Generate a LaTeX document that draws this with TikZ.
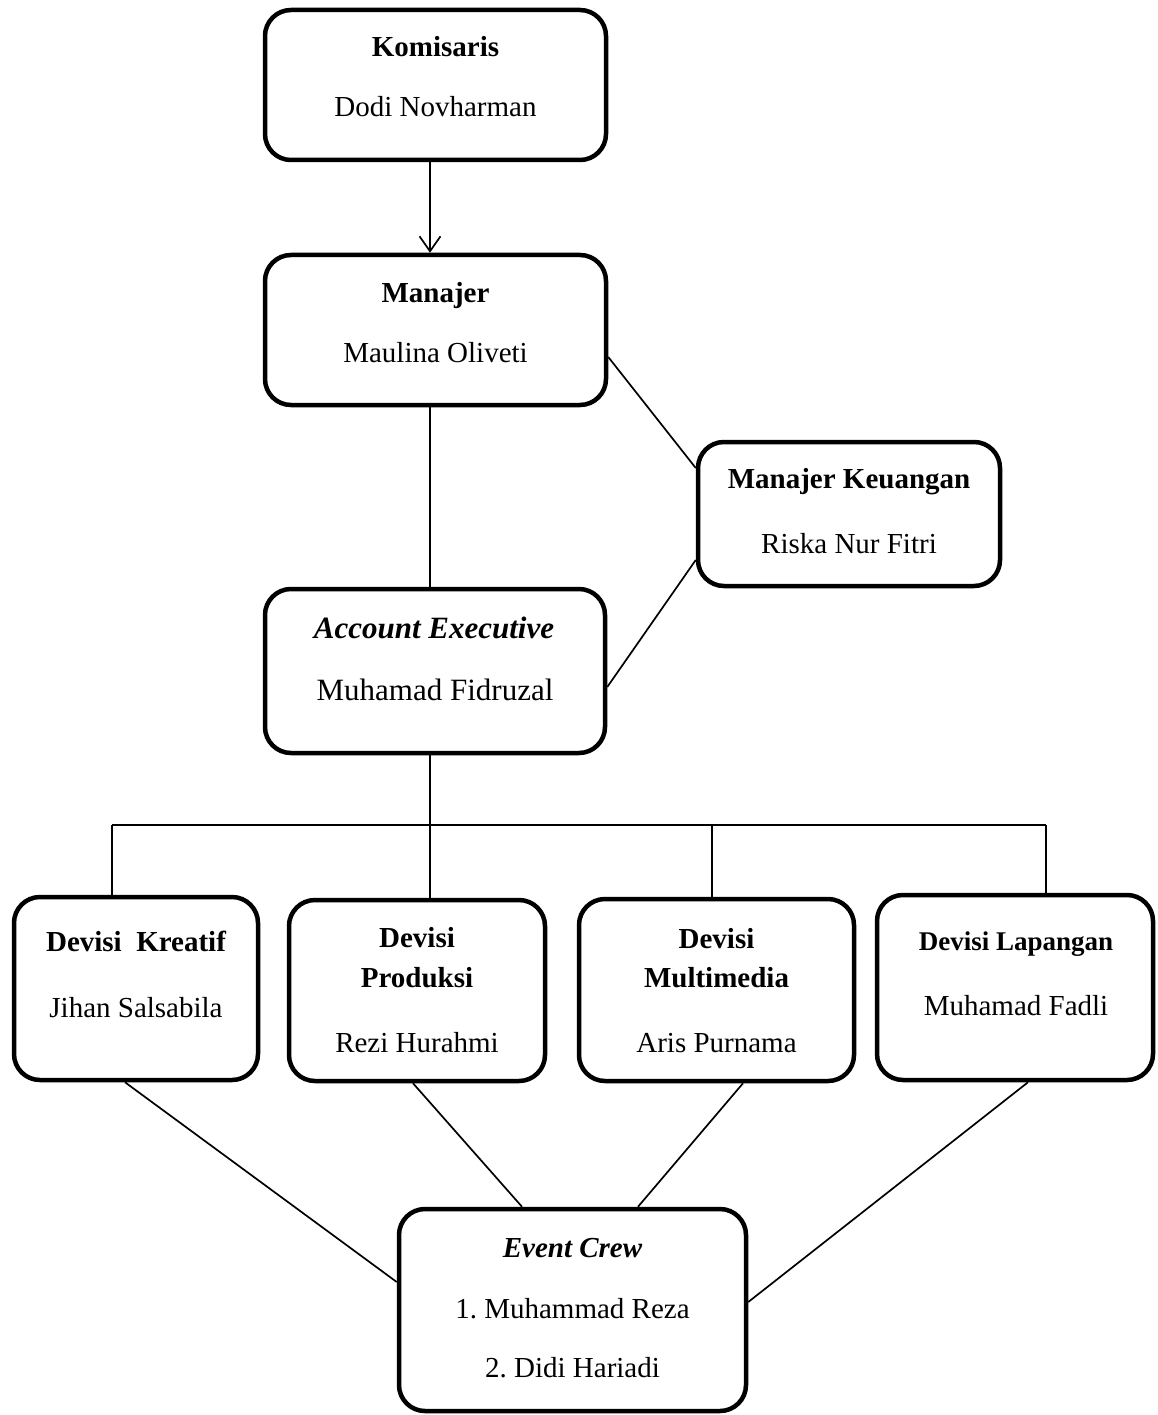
\documentclass[tikz,border=0pt]{standalone}
\usepackage{fontspec}
\setmainfont{Liberation Serif}
\usetikzlibrary{arrows.meta}
\frenchspacing
\begin{document}
\begin{tikzpicture}[x=1pt,y=-1pt,
  box/.style={draw=black,line width=4.5pt,rounded corners=26pt,inner sep=0pt,fill=none},
  conn/.style={line width=1.7pt,draw=black},
  arr/.style={conn,-{Straight Barb[length=15pt,width=21pt,line width=1.7pt]}},
  hd/.style={anchor=base,inner sep=0pt,font=\fontsize{29}{35}\selectfont\bfseries},
  nm/.style={anchor=base,inner sep=0pt,font=\fontsize{29}{35}\selectfont},
]
\useasboundingbox (0,0) rectangle (1158,1415);

% boxes
\node[box,minimum width=341pt,minimum height=150pt] (kom) at (435.5,85) {};
\node[box,minimum width=341pt,minimum height=150pt] (man) at (435.5,330) {};
\node[box,minimum width=302pt,minimum height=144pt] (mk) at (849,514) {};
\node[box,minimum width=340pt,minimum height=164pt] (ae) at (435,671) {};
\node[box,minimum width=244pt,minimum height=183pt] (kre) at (136,988.5) {};
\node[box,minimum width=256pt,minimum height=181pt] (pro) at (417,990.5) {};
\node[box,minimum width=275pt,minimum height=182pt] (mul) at (716.5,990) {};
\node[box,minimum width=276pt,minimum height=185pt] (lap) at (1015,987.5) {};
\node[box,minimum width=347pt,minimum height=202pt] (ec) at (572.5,1310) {};

% texts
\node[hd] (komA) at (435.5,57) {Komisaris};
\node[nm] (komB) at (435.5,117) {Dodi Novharman};
\node[hd] (manA) at (435.5,302) {Manajer};
\node[nm] (manB) at (435.5,362) {Maulina Oliveti};
\node[hd] (mkA) at (849,488) {Manajer Keuangan};
\node[nm] (mkB) at (849,553) {Riska Nur Fitri};
\node[hd,font=\fontsize{31}{37}\selectfont\bfseries\itshape] (aeA) at (434,638) {Account Executive};
\node[nm,font=\fontsize{31}{37}\selectfont] (aeB) at (435,700) {Muhamad Fidruzal};
\node[hd] (kreA) at (136,951) {Devisi\ \ Kreatif};
\node[nm] (kreB) at (136,1017) {Jihan Salsabila};
\node[hd] (proA) at (417,947) {Devisi};
\node[hd] (proB) at (417,987) {Produksi};
\node[nm] (proC) at (417,1052) {Rezi Hurahmi};
\node[hd] (mulA) at (716.5,948) {Devisi};
\node[hd] (mulB) at (716.5,987) {Multimedia};
\node[nm] (mulC) at (716.5,1052) {Aris Purnama};
\node[hd,font=\fontsize{27}{33}\selectfont\bfseries] (lapA) at (1016,950) {Devisi Lapangan};
\node[nm] (lapB) at (1016,1015) {Muhamad Fadli};
\node[hd,font=\fontsize{29}{35}\selectfont\bfseries\itshape] (ecA) at (572.5,1257) {Event Crew};
\node[nm] (ecB) at (572.5,1318) {1. Muhammad Reza};
\node[nm] (ecC) at (572.5,1377) {2. Didi Hariadi};

% connectors
\coordinate (spine) at (430,0);
\draw[arr] (kom.south -| spine) -- (man.north -| spine);
\draw[conn] (man.south -| spine) -- (ae.north -| spine);
\draw[conn] (ae.south -| spine) -- (pro.north -| spine);
\draw[conn] ([yshift=-27pt]man.east) -- ([yshift=46pt]mk.west);
\draw[conn] ([yshift=-16pt]ae.east) -- ([yshift=-46pt]mk.west);

\coordinate (bL) at (112,825);
\coordinate (bM) at (712,825);
\coordinate (bR) at (1046,825);
\draw[conn] (bL) -- (bR);
\draw[conn] (bL) -- (bL |- kre.north);
\draw[conn] (bM) -- (bM |- mul.north);
\draw[conn] (bR) -- (bR |- lap.north);

\draw[conn] ([xshift=-11pt]kre.south) -- ([yshift=28pt]ec.west);
\draw[conn] ([xshift=-4pt]pro.south) -- ([xshift=-50.5pt]ec.north);
\draw[conn] ([xshift=26.5pt]mul.south) -- ([xshift=65.5pt]ec.north);
\draw[conn] ([xshift=13pt]lap.south) -- ([yshift=8pt]ec.east);
\end{tikzpicture}
\end{document}
